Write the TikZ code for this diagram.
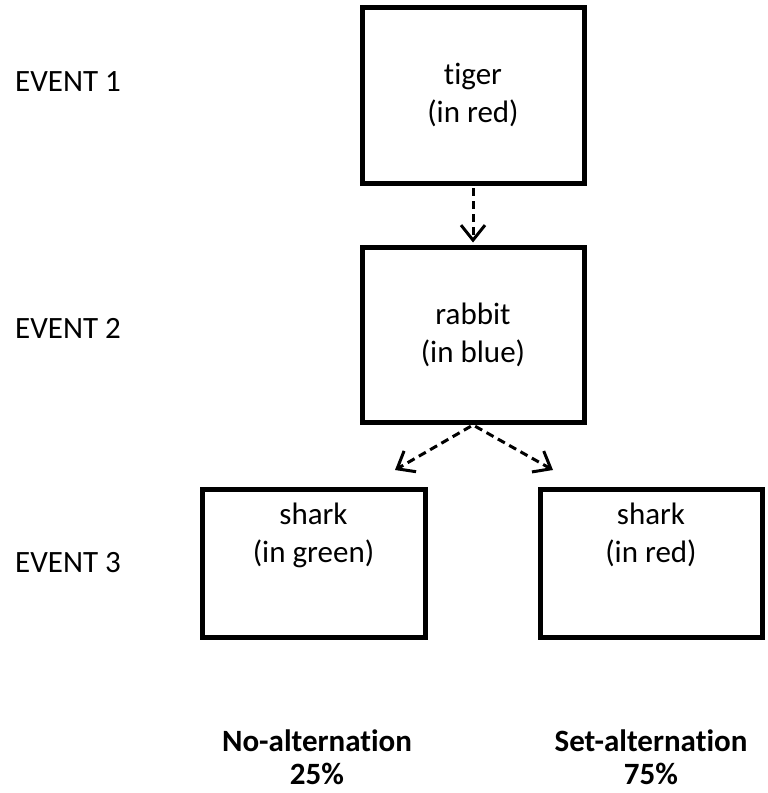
\documentclass[tikz,border=0pt]{standalone}
\usepackage{fontspec}
\setmainfont[RawFeature={-liga;-dlig}]{Carlito}
\usetikzlibrary{arrows.meta}

\tikzset{
  box/.style={draw=black, line width=5pt, rectangle, inner sep=0pt,
              minimum width=222pt, align=center,
              font=\fontsize{31}{38}\selectfont},
  inlbl/.style={align=center, inner sep=0pt, font=\fontsize{31}{38}\selectfont},
  evt/.style={anchor=west, inner sep=0pt, font=\fontsize{31}{38}\selectfont},
  result/.style={align=center, inner sep=0pt, font=\fontsize{31}{33}\selectfont\bfseries},
  flow/.style={line width=3pt, dash pattern=on 8pt off 5pt,
               -{Straight Barb[length=15pt, width=24pt, line width=3pt]}}
}

\begin{document}
\begin{tikzpicture}[x=1pt, y=-1pt]
  \useasboundingbox (0,0) rectangle (768,793);

  % row labels
  \node[evt] (e1) at (15,82)  {EVENT 1};
  \node[evt] (e2) at (15,328) {EVENT 2};
  \node[evt] (e3) at (15,563) {EVENT 3};

  % event boxes
  \node[box, minimum height=176pt] (tiger)  at (473,95)  {tiger\\(in red)};
  \node[box, minimum height=175pt] (rabbit) at (473,335) {rabbit\\(in blue)};
  \node[box, minimum width=223pt, minimum height=148pt] (sharkg) at (313.5,563) {};
  \node[box, minimum height=148pt] (sharkr) at (651,563) {};

  % captions sitting at the top of the lower boxes
  \node[inlbl, anchor=north] (tg) at ([yshift=-16pt]sharkg.north) {shark\\(in green)};
  \node[inlbl, anchor=north] (tr) at ([yshift=-16pt]sharkr.north) {shark\\(in red)};

  % arrow ends above the lower boxes
  \coordinate (tipl) at (395,470);
  \coordinate (tipr) at (553,470);

  % connectors
  \draw[flow, shorten <=2.5pt, shorten >=2.5pt] (tiger.south) -- (rabbit.north);
  \draw[flow, shorten <=2.5pt] (rabbit.south) -- (tipl);
  \draw[flow, shorten <=2.5pt] (rabbit.south) -- (tipr);

  % outcome labels
  \node[result] (noalt)  at (317,757) {No-alternation\\25\%};
  \node[result] (setalt) at (651,757) {Set-alternation\\75\%};
\end{tikzpicture}
\end{document}
